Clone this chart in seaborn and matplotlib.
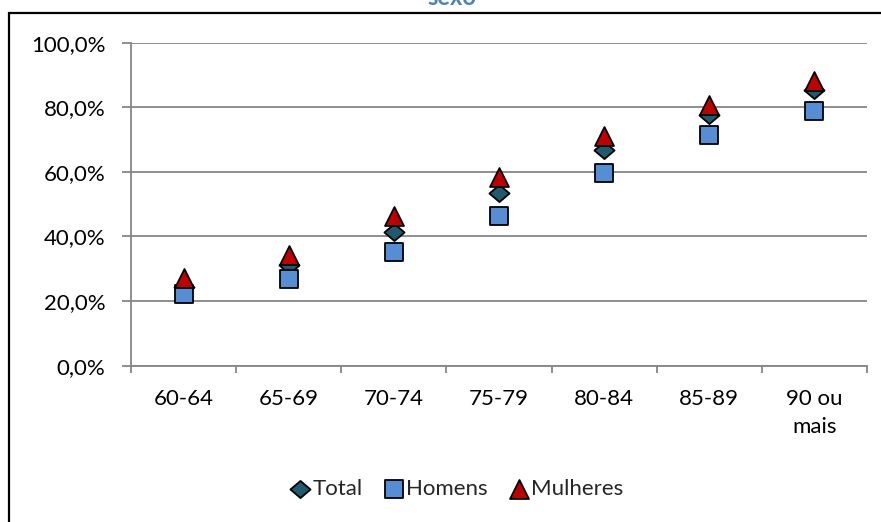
import matplotlib
matplotlib.use("Agg")
import matplotlib.pyplot as plt
import matplotlib.ticker as mticker
from matplotlib.path import Path
from matplotlib.patches import Rectangle
import seaborn as sns
import pandas as pd

# Age groups and share per group (%)
faixas = ["60-64", "65-69", "70-74", "75-79", "80-84", "85-89", "90 ou\nmais"]
total = [24.5, 31.3, 41.5, 53.5, 66.9, 77.7, 85.4]
homens = [22.3, 26.9, 35.3, 46.4, 59.8, 71.5, 78.7]
mulheres = [27.2, 34.4, 46.4, 58.5, 71.0, 80.8, 88.0]

series = ["Total", "Homens", "Mulheres"]
valores = {"Total": total, "Homens": homens, "Mulheres": mulheres}

df = pd.DataFrame(
    [(i, s, v) for s in series for i, v in enumerate(valores[s])],
    columns=["pos", "serie", "valor"],
)

sns.set_theme(style="white")
plt.rcParams["font.family"] = ["Lato", "DejaVu Sans"]

diamante = Path([(-1, 0), (0, 0.85), (1, 0), (0, -0.85), (-1, 0)],
                [Path.MOVETO, Path.LINETO, Path.LINETO, Path.LINETO, Path.CLOSEPOLY])
estilos = {
    "Total": dict(marker=diamante, color="#1F5B6E", s=210),
    "Homens": dict(marker="s", color="#558ED5", s=175),
    "Mulheres": dict(marker="^", color="#C00000", s=185),
}

fig = plt.figure(figsize=(8.81, 5.22), dpi=100)
ax = fig.add_axes([131 / 881, 1 - 365.7 / 522, (867 - 131) / 881, (365.7 - 42.7) / 522])

for s in series:
    st = estilos[s]
    sns.scatterplot(data=df[df.serie == s], x="pos", y="valor", ax=ax,
                    marker=st["marker"], color=st["color"], s=st["s"],
                    edgecolor="black", linewidth=1.3, label=s, zorder=3,
                    legend=False)

ax.set_xlim(-0.5, len(faixas) - 0.5)
ax.set_ylim(0, 100)
ax.set_xlabel("")
ax.set_ylabel("")

grid = "#868686"
ax.yaxis.set_major_locator(mticker.MultipleLocator(20))
ax.yaxis.set_major_formatter(mticker.FuncFormatter(lambda v, p: f"{v:.1f}%".replace(".", ",")))
ax.grid(axis="y", color=grid, linewidth=1.3)
ax.set_axisbelow(True)

ax.set_xticks([i - 0.5 for i in range(len(faixas) + 1)])
ax.set_xticklabels([])
ax.set_xticks(range(len(faixas)), minor=True)
ax.set_xticklabels(faixas, minor=True, linespacing=1.45)
ax.tick_params(axis="x", which="major", length=5, width=1.3, color=grid, direction="out")
ax.tick_params(axis="x", which="minor", length=0, pad=17, labelsize=16, labelcolor="black")
ax.tick_params(axis="y", length=6.5, width=1.3, color=grid, direction="out",
               pad=12, labelsize=16, labelcolor="black")
ax.xaxis.set_ticks_position("bottom")
ax.yaxis.set_ticks_position("left")

for side in ("top", "right"):
    ax.spines[side].set_visible(False)
for side in ("left", "bottom"):
    ax.spines[side].set_color(grid)
    ax.spines[side].set_linewidth(1.3)

# Legend below the axis
handles, labels = ax.get_legend_handles_labels()
fig.legend(handles, labels, loc="center", bbox_to_anchor=(456 / 881, 1 - 489 / 522),
           ncol=3, frameon=False, fontsize=16, handletextpad=0.05,
           columnspacing=0.9, handlelength=1.0, borderaxespad=0)

# Chart outer border and the title running off the top edge
fig.add_artist(Rectangle((9 / 881, -0.1), 1.2, 1 - 13 / 522 + 0.1,
                         transform=fig.transFigure, fill=False,
                         edgecolor="black", linewidth=1.6, clip_on=False))
fig.text(452 / 881, 1 - 5 / 522, "sexo", ha="center", va="baseline",
         fontsize=17, fontweight="bold", color="#4F81BD")

fig.savefig("out.png", dpi=100)
